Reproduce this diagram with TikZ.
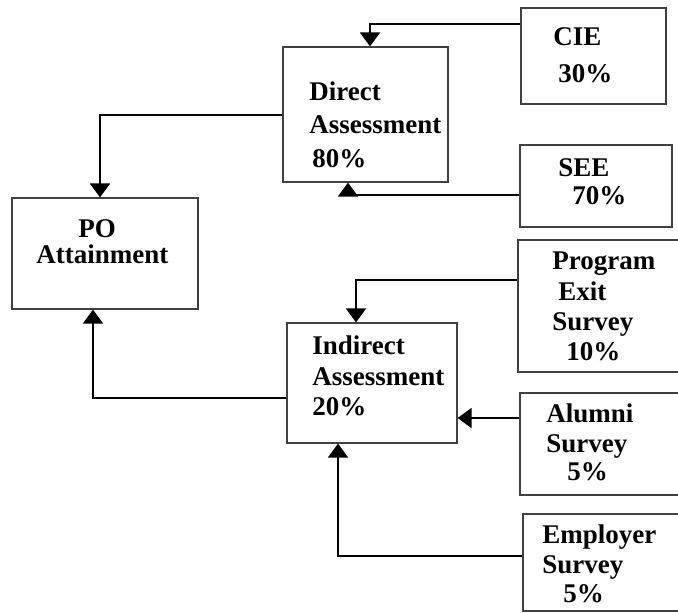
\documentclass[tikz,border=0pt]{standalone}
\usepackage{fontspec}
\setmainfont{Liberation Serif}
\usetikzlibrary{arrows.meta}

\tikzset{
  box/.style={draw=black!75, line width=0.6pt, rectangle, inner sep=0pt},
  txt/.style={anchor=base west, inner sep=0pt, font=\fontsize{13.5}{15}\selectfont\bfseries},
  arr/.style={line width=1pt, -{Triangle[width=10pt,length=7pt]}}
}

\begin{document}
\begin{tikzpicture}[x=0.5pt, y=-0.5pt]
% Fix the page to the reference size
\clip (0,0) rectangle (678,612);

% Boxes
\node[box, minimum width=72.5pt, minimum height=48pt] (cie) at (593.5,56) {};
\node[box, minimum width=76pt, minimum height=41pt] (see) at (596,186) {};
\node[box, minimum width=82.5pt, minimum height=67.5pt] (direct) at (365.5,114.5) {};
\node[box, minimum width=93pt, minimum height=55.5pt] (po) at (105,253.5) {};
\node[box, minimum width=85pt, minimum height=60pt] (indirect) at (372,383) {};
\node[box, minimum width=91pt, minimum height=66pt] (pes) at (609,306) {};
\node[box, minimum width=90pt, minimum height=51pt] (alumni) at (610,444) {};
\node[box, minimum width=88.5pt, minimum height=48.5pt] (employer) at (611.5,562.5) {};

% Texts
\node[txt] (cie-1) at (553,45) {CIE};
\node[txt] (cie-2) at (558,82) {30\%};
\node[txt] (see-1) at (558,176) {SEE};
\node[txt] (see-2) at (572,204) {70\%};
\node[txt] (direct-1) at (309,100) {Direct};
\node[txt] (direct-2) at (309,133) {Assessment};
\node[txt] (direct-3) at (312,167) {80\%};
\node[txt] (po-1) at (78,237) {PO};
\node[txt] (po-2) at (36,263) {Attainment};
\node[txt] (indirect-1) at (312,354) {Indirect};
\node[txt] (indirect-2) at (312,385) {Assessment};
\node[txt] (indirect-3) at (312,415) {20\%};
\node[txt] (pes-1) at (552,269) {Program};
\node[txt] (pes-2) at (558,300) {Exit};
\node[txt] (pes-3) at (552,330) {Survey};
\node[txt] (pes-4) at (566,360) {10\%};
\node[txt] (alumni-1) at (546,422) {Alumni};
\node[txt] (alumni-2) at (546,452) {Survey};
\node[txt] (alumni-3) at (567,480) {5\%};
\node[txt] (employer-1) at (542,543) {Employer};
\node[txt] (employer-2) at (542,573) {Survey};
\node[txt] (employer-3) at (563,602) {5\%};

% Where the connectors leave and meet the boxes
\coordinate (cie-out) at ([yshift=16pt]cie.west);
\coordinate (see-out) at ([yshift=-4.5pt]see.west);
\coordinate (indirect-out) at ([yshift=-7.5pt]indirect.west);
\coordinate (pes-out) at ([yshift=13pt]pes.west);
\coordinate (alumni-out) at ([yshift=13pt]alumni.west);
\coordinate (employer-out) at ([yshift=3.25pt]employer.west);

% Connectors
\draw[arr] (cie-out) -| ([xshift=2.25pt]direct.north);
\draw[arr] (see-out) -| ([xshift=-8.75pt]direct.south);
\draw[arr] (direct.west) -| ([xshift=-2.5pt]po.north);
\draw[arr] (indirect-out) -| ([xshift=-6pt]po.south);
\draw[arr] (pes-out) -| ([xshift=-8pt]indirect.north);
\draw[arr] (alumni-out) -- (alumni-out -| indirect.east);
\draw[arr] (employer-out) -| ([xshift=-17pt]indirect.south);
\end{tikzpicture}
\end{document}
